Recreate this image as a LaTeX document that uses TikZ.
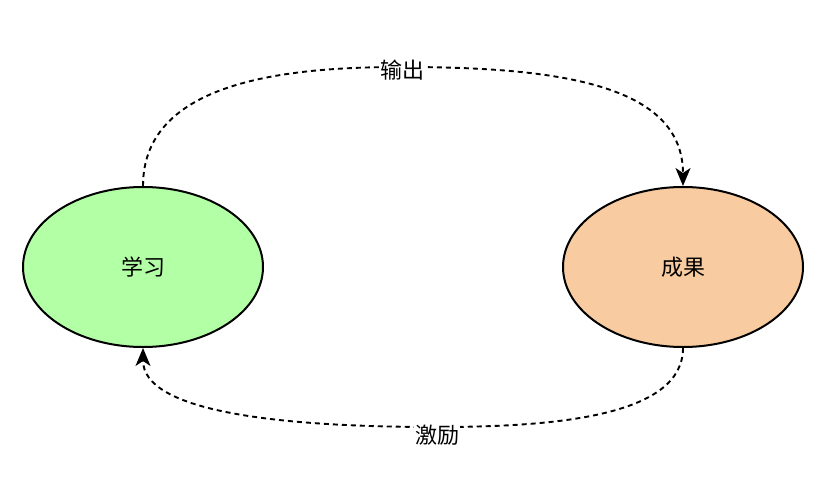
\documentclass[tikz,border=0pt]{standalone}
\usepackage{fontspec}
\newfontfamily\cjk{Noto Sans CJK SC}
\usetikzlibrary{arrows.meta,shapes.geometric}
\definecolor{learnfill}{HTML}{B3FFA6}
\definecolor{resultfill}{HTML}{F8CCA0}
\tikzset{
  blob/.style={ellipse, draw=black, line width=2pt, minimum width=240pt, minimum height=160pt, inner sep=0pt, font=\cjk\fontsize{22}{26}\selectfont},
  flow/.style={dashed, dash pattern=on 5pt off 4pt, line width=1.9pt, -{Stealth[length=18pt,width=15pt,inset=5pt]}},
  lbl/.style={fill=white, inner sep=1pt, font=\cjk\fontsize{22}{26}\selectfont}
}
\begin{document}
\begin{tikzpicture}[x=1pt,y=-1pt]
\useasboundingbox (0,0) rectangle (826,500);
\node[blob, fill=learnfill] (learn) at (143,267) {学习};
\node[blob, fill=resultfill] (result) at (683,267) {成果};
\coordinate (topmid) at (402,67);
\coordinate (botmid) at (437,427);
\draw[flow] (learn.north) .. controls (143,80) and (290,67) .. (topmid)
  .. controls (560,67) and (683,85) .. (result.north);
\draw[flow] (result.south) .. controls (683,415) and (560,427) .. (botmid)
  .. controls (270,427) and (143,410) .. (learn.south);
\node[lbl] (outlbl) at (402,70) {输出};
\node[lbl] (inclbl) at (437,435) {激励};
\end{tikzpicture}
\end{document}
